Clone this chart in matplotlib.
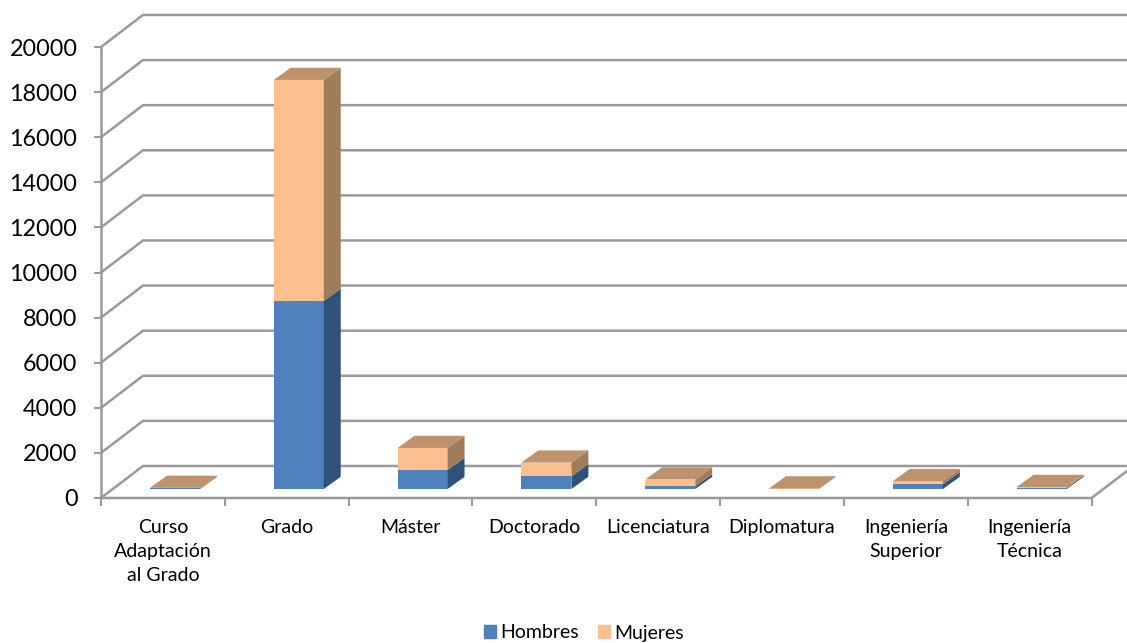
import numpy as np
import matplotlib
matplotlib.use('Agg')
import matplotlib.pyplot as plt
from matplotlib.patches import Patch

# values
categorias = ['Curso\nAdaptación\nal Grado', 'Grado', 'Máster', 'Doctorado',
              'Licenciatura', 'Diplomatura', 'Ingeniería\nSuperior', 'Ingeniería\nTécnica']
hombres = [30, 8340, 840, 560, 120, 10, 210, 50]
mujeres = [20, 9800, 980, 610, 300, 15, 140, 40]
yticks = list(range(0, 20001, 2000))

GRID = '#9a9a9a'
BLUE, BLUE_SIDE = '#4f81bd', '#2f5279'
PEACH, PEACH_SIDE, TOP = '#fcc090', '#a07c5c', '#bd926c'

plt.rcParams['font.family'] = ['Lato', 'DejaVu Sans']

fig = plt.figure(figsize=(11.27, 6.43), dpi=100)
ax = fig.add_axes([101 / 1127, (643 - 498) / 643, 990.6 / 1127, 451 / 643])
ax.set_xlim(0, 8)
ax.set_ylim(0, 20000)
for s in ax.spines.values():
    s.set_visible(False)

# depth of the fake 3d box, in data units
wall_dx, wall_dy = 0.339, 1420
bar_dx, bar_dy = 0.097, 400      # where the bars stand on the floor
side_dx, side_dy = 0.137, 540    # depth of the bars themselves
bar_w = 0.404

# walls
ax.plot([0, 0], [0, 20000], color=GRID, lw=1.8, clip_on=False, zorder=1)
for v in yticks:
    ax.plot([0, wall_dx, 8 + wall_dx], [v, v + wall_dy, v + wall_dy],
            color=GRID, lw=1.8, clip_on=False, zorder=1)
ax.plot([0, 8, 8 + wall_dx], [0, 0, wall_dy], color=GRID, lw=1.8, clip_on=False, zorder=1)

# bars
x = np.arange(len(categorias)) + 0.5 + bar_dx
h = np.array(hombres)
m = np.array(mujeres)
ax.bar(x, h, bar_w, bottom=bar_dy, color=BLUE, clip_on=False, zorder=3)
ax.bar(x, m, bar_w, bottom=bar_dy + h, color=PEACH, clip_on=False, zorder=3)
for xi, hi, mi in zip(x, h, m):
    r = xi + bar_w / 2
    l = xi - bar_w / 2
    y0, y1, y2 = bar_dy, bar_dy + hi, bar_dy + hi + mi
    ax.fill([r, r + side_dx, r + side_dx, r], [y0, y0 + side_dy, y1 + side_dy, y1],
            color=BLUE_SIDE, lw=0, clip_on=False, zorder=3)
    ax.fill([r, r + side_dx, r + side_dx, r], [y1, y1 + side_dy, y2 + side_dy, y2],
            color=PEACH_SIDE, lw=0, clip_on=False, zorder=3)
    ax.fill([l, r, r + side_dx, l + side_dx], [y2, y2, y2 + side_dy, y2 + side_dy],
            color=TOP, lw=0, clip_on=False, zorder=3)

# axes ticks and labels
ax.set_yticks(yticks)
ax.tick_params(axis='y', length=5, width=1.5, color=GRID, labelsize=16.8, pad=12, labelcolor='black')
ax.set_xticks(range(9))
ax.set_xticklabels([])
ax.tick_params(axis='x', length=6, width=1.5, color=GRID)
ax.set_xticks(np.arange(8) + 0.5, categorias, minor=True, fontsize=14, linespacing=1.5)
ax.tick_params(axis='x', which='minor', length=0, pad=15)

fig.legend(handles=[Patch(color=BLUE, label='Hombres'), Patch(color=PEACH, label='Mujeres')],
           loc='center', bbox_to_anchor=(584 / 1127, 1 - 633 / 643), ncol=2, frameon=False,
           fontsize=14, handlelength=0.62, handleheight=0.62, handletextpad=0.2,
           columnspacing=1.0, borderpad=0, borderaxespad=0)

fig.savefig('out.png', dpi=100)
